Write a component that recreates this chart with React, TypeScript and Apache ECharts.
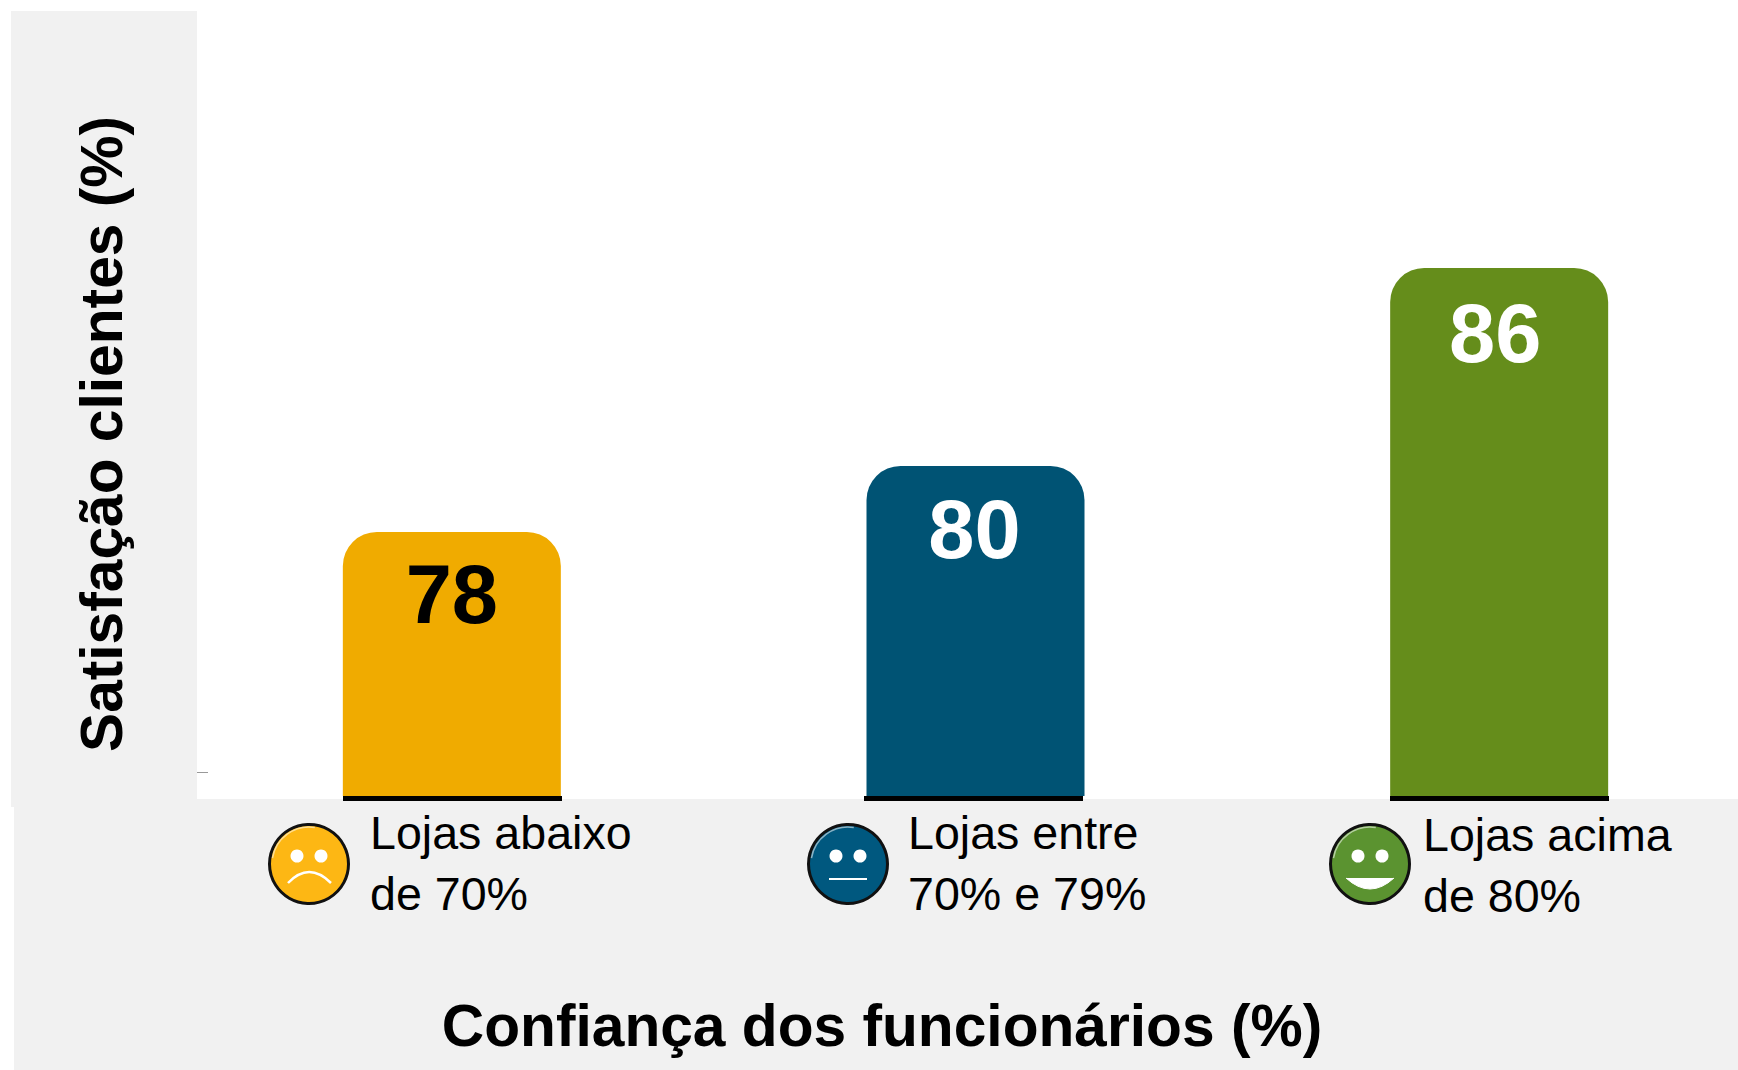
import React, { useEffect, useRef } from "react";
import * as echarts from "echarts";

const categories = ["Lojas abaixo\nde 70%", "Lojas entre\n70% e 79%", "Lojas acima\nde 80%"];
const values = [78, 80, 86];
const barColors = ["#F0AB00", "#005374", "#658D1B"];
const labelColors = ["#000000", "#FFFFFF", "#FFFFFF"];
const labelDistances = [27, 28, 30];
const labelShifts = [0, -1, -4];
const faceColors = ["#FDB714", "#00587F", "#5B9330"];
const faceCenters = [309, 848, 1370];
const captionLefts = [370, 908, 1423];
const captionTops = [802, 802, 804];
const baselineSegments = [[343, 219], [864, 219], [1390, 219]];
const yTitle = "Satisfação clientes (%)";
const xTitle = "Confiança dos funcionários (%)";
const FONT = "Liberation Sans";
const GREY = "#F1F1F1";

function face(cx: number, color: string, kind: number) {
  const cy = 864;
  const mouth =
    kind === 0
      ? { type: "bezierCurve", shape: { x1: cx - 21, y1: 883, x2: cx + 22, y2: 883, cpx1: cx, cpy1: 861 }, style: { stroke: "#FFFFFF", lineWidth: 2.5, fill: null }, z: 6 }
      : kind === 1
      ? { type: "line", shape: { x1: cx - 19, y1: 879, x2: cx + 19, y2: 879 }, style: { stroke: "#FFFFFF", lineWidth: 2 }, z: 6 }
      : { type: "bezierCurve", shape: { x1: cx - 24, y1: 878, x2: cx + 24, y2: 878, cpx1: cx, cpy1: 900 }, style: { fill: "#FFFFFF", stroke: "#FFFFFF", lineWidth: 1 }, z: 6 };
  return [
    { type: "circle", shape: { cx, cy, r: 39.5 }, style: { fill: color, stroke: "#111111", lineWidth: 3 }, z: 5 },
    { type: "arc", shape: { cx, cy, r: 37, startAngle: Math.PI * 1.05, endAngle: Math.PI * 1.55 }, style: { stroke: "rgba(255,255,255,0.55)", lineWidth: 1.5, fill: null }, z: 6 },
    { type: "circle", shape: { cx: cx - 12, cy: 856, r: 6.5 }, style: { fill: "#FFFFFF" }, z: 6 },
    { type: "circle", shape: { cx: cx + 12, cy: 856, r: 6.5 }, style: { fill: "#FFFFFF" }, z: 6 },
    mouth,
  ];
}

export default function App() {
  const ref = useRef<HTMLDivElement>(null);
  useEffect(() => {
    const chart = echarts.init(ref.current!, null, { renderer: "svg" });
    chart.setOption({
      animation: false,
      backgroundColor: "#FFFFFF",
      textStyle: { fontFamily: FONT },
      grid: { left: 190, top: 4, width: 1571, height: 792, outerBoundsMode: "none", containLabel: false },
      xAxis: {
        type: "category",
        data: categories,
        axisLine: { show: false },
        axisTick: { show: false },
        axisLabel: { show: false },
      },
      yAxis: {
        type: "value",
        min: 70,
        max: 94,
        axisLine: { show: false },
        axisTick: { show: false },
        axisLabel: { show: false },
        splitLine: { show: false },
      },
      series: [
        {
          type: "bar",
          barWidth: 218,
          z: 3,
          itemStyle: { borderRadius: [34, 34, 0, 0] },
          data: values.map((v, i) => ({
            value: v,
            itemStyle: { color: barColors[i] },
            label: {
              show: true,
              position: "insideTop",
              distance: labelDistances[i],
              offset: [labelShifts[i], 0],
              color: labelColors[i],
              fontFamily: FONT,
              fontWeight: "bold",
              fontSize: 83,
              lineHeight: 70,
            },
          })),
        },
      ],
      graphic: {
        elements: [
          { type: "rect", shape: { x: 11, y: 11, width: 186, height: 796 }, style: { fill: GREY }, z: -10 },
          { type: "rect", shape: { x: 14, y: 799, width: 1724, height: 271 }, style: { fill: GREY }, z: -10 },
          { type: "line", shape: { x1: 197, y1: 772.5, x2: 208, y2: 772.5 }, style: { stroke: "#999999", lineWidth: 1 }, z: 1 },
          ...baselineSegments.map(([x, w]) => ({
            type: "rect",
            shape: { x, y: 796, width: w, height: 5 },
            style: { fill: "#000000" },
            z: 10,
          })),
          ...categories.map((c, i) => ({
            type: "text",
            x: captionLefts[i],
            y: captionTops[i],
            style: { text: c, fontFamily: FONT, fontSize: 46.6, lineHeight: 61, fill: "#000000", textAlign: "left", textVerticalAlign: "top" },
            z: 5,
          })),
          ...faceCenters.flatMap((cx, i) => face(cx, faceColors[i], i)),
          {
            type: "text",
            x: 101,
            y: 434,
            rotation: Math.PI / 2,
            style: { text: yTitle, fontFamily: FONT, fontWeight: "bold", fontSize: 58.7, fill: "#000000", textAlign: "center", textVerticalAlign: "middle" },
            z: 5,
          },
          {
            type: "text",
            x: 882,
            y: 1025,
            style: { text: xTitle, fontFamily: FONT, fontWeight: "bold", fontSize: 58.7, fill: "#000000", textAlign: "center", textVerticalAlign: "middle" },
            z: 5,
          },
        ],
      },
    });
    return () => chart.dispose();
  }, []);
  return <div ref={ref} style={{ position: "absolute", left: 0, top: 0, width: 1738, height: 1070 }} />;
}
